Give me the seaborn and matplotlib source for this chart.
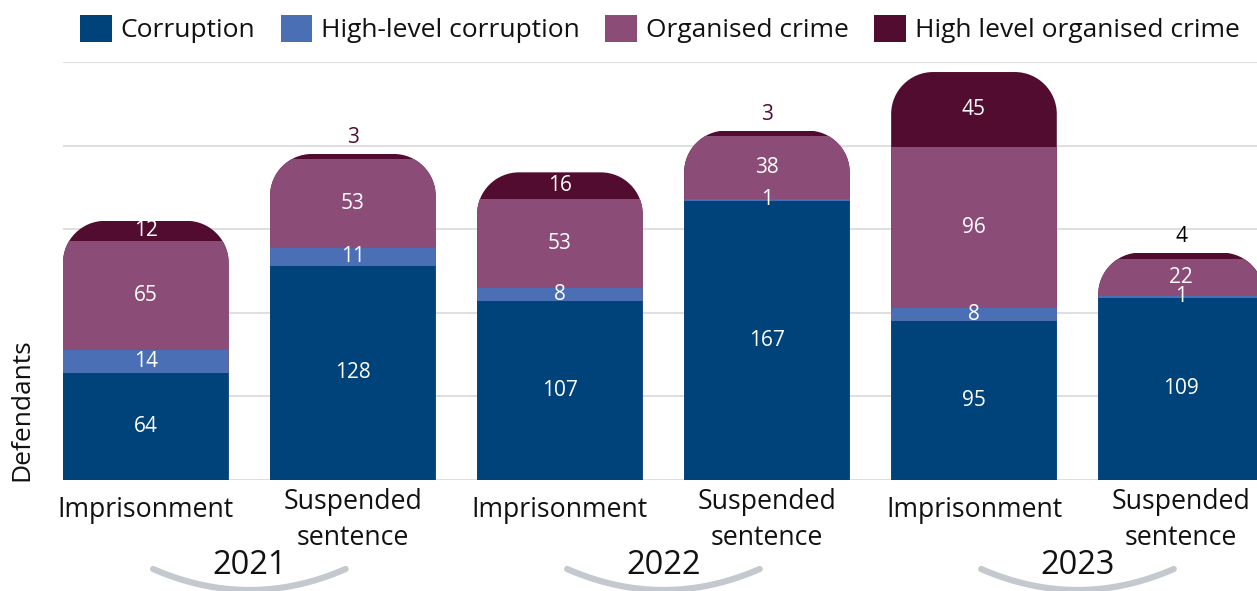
import numpy as np
import pandas as pd
import matplotlib
matplotlib.use("Agg")
import matplotlib.pyplot as plt
import seaborn as sns
from matplotlib.path import Path
from matplotlib.patches import Patch
import matplotlib.transforms as mtransforms

# ---- data ----
years = ["2021", "2022", "2023"]
sentences = ["Imprisonment", "Suspended\nsentence"]
series = ["Corruption", "High-level corruption", "Organised crime", "High level organised crime"]
corruption = [64, 128, 107, 167, 95, 109]
high_corruption = [14, 11, 8, 1, 8, 1]
organised = [65, 53, 53, 38, 96, 22]
high_organised = [12, 3, 16, 3, 45, 4]
top_label_colors = ["white", "#520c30", "white", "#520c30", "white", "black"]
colors = ["#00427a", "#4a6fb5", "#8b4d77", "#520c30"]

sns.set_theme(style="white")
plt.rcParams["font.family"] = ["Open Sans", "DejaVu Sans"]

W, H, DPI = 12.57, 5.91, 100
fig = plt.figure(figsize=(W, H), dpi=DPI)
ax_left_px, ax_right_px, ax_top_px, ax_bot_px = 63, 1257, 62, 480
ax = fig.add_axes([ax_left_px / 1257, 1 - ax_bot_px / 591,
                   (ax_right_px - ax_left_px) / 1257, (ax_bot_px - ax_top_px) / 591])

cats = [f"{y} {s}" for y in years for s in sentences]
vals = np.array([corruption, high_corruption, organised, high_organised], dtype=float)
cum = np.cumsum(vals, axis=0)

rows = []
for si, name in enumerate(series):
    for ci, c in enumerate(cats):
        rows.append({"cat": c, "series": name, "cum": cum[si, ci]})
df = pd.DataFrame(rows)

hue_order = series[::-1]
pal = dict(zip(series, colors))
sns.barplot(data=df, x="cat", y="cum", hue="series", hue_order=hue_order, order=cats,
            palette=pal, dodge=False, saturation=1, width=0.8, linewidth=0,
            legend=False, ax=ax)

xmin, xmax = -0.4, 5.367
ymin, ymax = 0, 250
ax.set_xlim(xmin, xmax)
ax.set_ylim(ymin, ymax)

# rounded tops via clip path
px_per_x = (ax_right_px - ax_left_px) / (xmax - xmin)
px_per_y = (ax_bot_px - ax_top_px) / (ymax - ymin)
r_px = 42
rx, ry = r_px / px_per_x, r_px / px_per_y
k = 0.5523

def rounded_top(x0, x1, top):
    verts = [(x0, 0), (x0, top - ry),
             (x0, top - ry + k * ry), (x0 + rx - k * rx, top), (x0 + rx, top),
             (x1 - rx, top),
             (x1 - rx + k * rx, top), (x1, top - ry + k * ry), (x1, top - ry),
             (x1, 0), (x0, 0)]
    codes = [Path.MOVETO, Path.LINETO,
             Path.CURVE4, Path.CURVE4, Path.CURVE4,
             Path.LINETO,
             Path.CURVE4, Path.CURVE4, Path.CURVE4,
             Path.LINETO, Path.CLOSEPOLY]
    return Path(verts, codes)

totals = cum[-1]
clips = [rounded_top(i - 0.4, i + 0.4, totals[i]) for i in range(len(cats))]
for p in ax.patches:
    xc = p.get_x() + p.get_width() / 2
    i = int(round(xc))
    if 0 <= i < len(cats):
        p.set_clip_path(clips[i], ax.transData)

# gridlines
ax.set_yticks(np.arange(0, 251, 50))
ax.set_yticklabels([])
ax.yaxis.grid(True, color="#d9d9d9", linewidth=1.2)
ax.set_axisbelow(True)
for s in ax.spines.values():
    s.set_visible(False)
ax.tick_params(axis="both", length=0)

# labels
for si in range(4):
    for ci in range(len(cats)):
        v = vals[si, ci]
        bottom = cum[si, ci] - v
        if si == 3 and v < 8:
            ax.text(ci, totals[ci] + 16 / px_per_y, f"{int(v)}", ha="center", va="center",
                    fontsize=15, color=top_label_colors[ci])
        else:
            ax.text(ci, bottom + v / 2, f"{int(v)}", ha="center", va="center",
                    fontsize=15, color="white")

ax.set_xticks(range(len(cats)))
ax.set_xticklabels([s for y in years for s in sentences], fontsize=19.2,
                   linespacing=1.38, color="#111111", va="center")
ax.tick_params(axis="x", pad=28.5)
for lab in ax.get_xticklabels():
    if "\n" not in lab.get_text():
        lab.set_transform(lab.get_transform() +
                          mtransforms.ScaledTranslation(0, 9.5 / DPI, fig.dpi_scale_trans))
ax.set_xlabel("")
ax.set_ylabel("")

fig.text(22 / 1257, 1 - 481 / 591, "Defendants", rotation=90, ha="center", va="bottom",
         fontsize=19, color="#111111")

# years and arcs
blend = mtransforms.blended_transform_factory(ax.transData, fig.transFigure)
for yi, yr in enumerate(years):
    mid = yi * 2 + 0.5
    ax.text(mid, 1 - 565 / 591, yr, ha="center", va="center", fontsize=23.5,
            color="#111111", transform=blend, clip_on=False)
    t = np.linspace(-1, 1, 60)
    xs = mid + 0.465 * t
    ys = 1 - (590 - 21 * t ** 2) / 591
    ax.plot(xs, ys, color="#c3c9ce", linewidth=4.5, solid_capstyle="round",
            transform=blend, clip_on=False)

handles = [Patch(facecolor=c, edgecolor="none", label=n) for c, n in zip(colors, series)]
fig.legend(handles=handles, loc="center", bbox_to_anchor=(0.525, 1 - 29 / 591), ncol=4,
           frameon=False, fontsize=19.0, handlelength=1.2, handleheight=1.2,
           handletextpad=0.35, columnspacing=0.95, labelcolor="#111111")

fig.savefig("out.png", dpi=DPI)
